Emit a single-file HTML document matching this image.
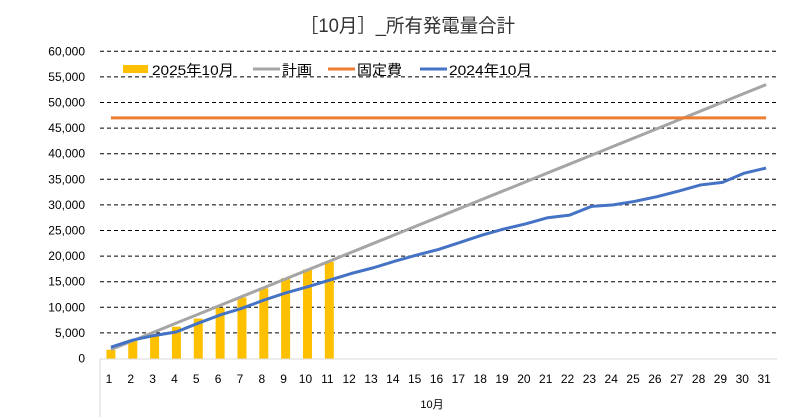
<!DOCTYPE html>
<html><head><meta charset="utf-8"><style>
body{margin:0;background:#fff;}
svg{display:block;font-family:"Liberation Sans","Noto Sans CJK JP",sans-serif;}
</style></head><body>
<svg id="s" width="807" height="417" viewBox="0 0 807 417" xmlns="http://www.w3.org/2000/svg">
<rect width="807" height="417" fill="#fff"/>
<text x="300" y="32" font-size="19" textLength="215" lengthAdjust="spacingAndGlyphs" fill="#333">［10月］_所有発電量合計</text>
<g id="g"></g>
<line x1="100" y1="359" x2="777" y2="359" stroke="#d9d9d9"/>
<line x1="100" y1="359" x2="100" y2="417" stroke="#d9d9d9"/>
<text x="432" y="408" font-size="11" text-anchor="middle" fill="#000">10月</text>
<g font-size="14" fill="#000">
<rect x="123" y="65" width="25" height="8" fill="#FFC000"/>
<text x="152" y="75" textLength="82" lengthAdjust="spacingAndGlyphs">2025年10月</text>
<line x1="253" y1="69" x2="280" y2="69" stroke="#A5A5A5" stroke-width="3"/>
<text x="282" y="75" textLength="30" lengthAdjust="spacingAndGlyphs">計画</text>
<line x1="328" y1="69" x2="355" y2="69" stroke="#ED7D31" stroke-width="3"/>
<text x="357" y="75" textLength="45" lengthAdjust="spacingAndGlyphs">固定費</text>
<line x1="420" y1="69" x2="447" y2="69" stroke="#4472C4" stroke-width="3"/>
<text x="449" y="75" textLength="83" lengthAdjust="spacingAndGlyphs">2024年10月</text>
</g>
</svg>
<script>
var g=document.getElementById('g'),h='';
function Y(v){return 358.5-v/5000*25.6;}
function X(i){return 100+21.84*(i-0.5);}
for(var k=0;k<=12;k++){var y=Y(k*5000);
 if(k>0)h+='<line x1="100" y1="'+y+'" x2="777" y2="'+y+'" stroke="#000" stroke-dasharray="4,3" stroke-width="1"/>';
 h+='<text x="85" y="'+(y+4)+'" font-size="12" text-anchor="end" fill="#000">'+(k*5000).toLocaleString('en-US')+'</text>';}
var bars=[1700,3700,4700,6200,7800,9900,11900,13700,15700,17400,18900];
bars.forEach(function(v,i){var x=X(i+1);h+='<rect x="'+(x-4.5)+'" y="'+Y(v)+'" width="9" height="'+(358.5-Y(v))+'" fill="#FFC000"/>';});
for(var i=1;i<=31;i++)h+='<text x="'+(X(i)-2)+'" y="383" font-size="12" text-anchor="middle" fill="#000">'+i+'</text>';
var p=[];for(i=1;i<=31;i++)p.push(X(i)+','+Y(1750+(i-1)*1725));
h+='<polyline points="'+p.join(' ')+'" fill="none" stroke="#A5A5A5" stroke-width="3"/>';
h+='<line x1="'+X(1)+'" y1="'+Y(47000)+'" x2="'+X(31)+'" y2="'+Y(47000)+'" stroke="#ED7D31" stroke-width="3"/>';
var b=[2200,3600,4500,5200,6900,8500,9800,11400,12800,14000,15300,16600,17700,19000,20200,21300,22700,24100,25300,26300,27500,28000,29700,30000,30700,31600,32700,33900,34400,36200,37200];
p=[];b.forEach(function(v,i){p.push(X(i+1)+','+Y(v));});
h+='<polyline points="'+p.join(' ')+'" fill="none" stroke="#4472C4" stroke-width="3" stroke-linejoin="round"/>';
g.innerHTML=h;
</script>
</body></html>
